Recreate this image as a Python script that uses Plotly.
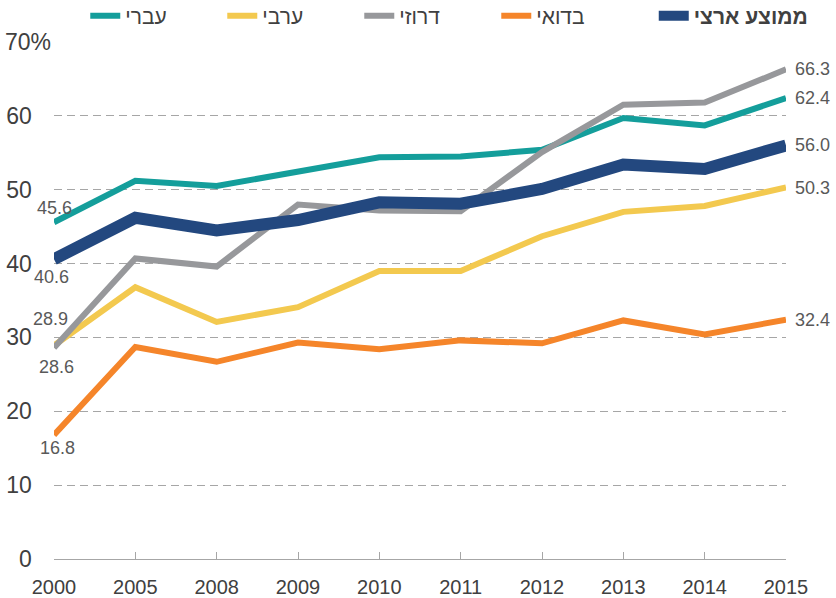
import plotly.graph_objects as go

# Data
years = ['2000', '2005', '2008', '2009', '2010', '2011', '2012', '2013', '2014', '2015']
hebrew = [45.6, 51.2, 50.5, 52.4, 54.4, 54.5, 55.4, 59.7, 58.7, 62.4]
arab = [28.9, 36.8, 32.1, 34.1, 39.0, 39.0, 43.7, 47.0, 47.8, 50.3]
druze = [28.6, 40.7, 39.6, 48.0, 47.2, 47.1, 55.1, 61.5, 61.8, 66.3]
bedouin = [16.8, 28.7, 26.7, 29.3, 28.4, 29.6, 29.2, 32.3, 30.4, 32.4]
national = [40.6, 46.2, 44.5, 45.9, 48.3, 48.1, 50.1, 53.4, 52.8, 56.0]

y_ticks = [0, 10, 20, 30, 40, 50, 60, 70]
nb = '\u00a0'
y_ticktext = [str(v) + nb * 3 for v in y_ticks[:-1]] + ['70%']

FONT = 'Liberation Sans, Arial, sans-serif'
LABEL_COLOR = '#595959'

# (name, values, colour, width, legend, rank, y shift of the 2000 label, x shift)
series = [
    ('עברי', hebrew, '#149E9B', 6, 'legend', 1, 14, 0),
    ('ערבי', arab, '#F3C94F', 6, 'legend', 2, 27, -4),
    ('בדואי', bedouin, '#F5852A', 6, 'legend', 4, -13, 3),
    ('דרוזי', druze, '#97989B', 6, 'legend', 3, -19, 2),
    ('<b>ממוצע ארצי</b>', national, '#23487F', 12, 'legend2', 5, -18, -3),
]

last = len(years) - 1
fig = go.Figure()
annotations = []
for name, vals, color, width, leg, rank, ysh, xsh in series:
    fig.add_trace(go.Scatter(x=years, y=vals, mode='lines', name=name,
                             line=dict(color=color, width=width),
                             legend=leg, legendrank=rank, hoverinfo='x+y'))
    # first and last value labels (x given as category index)
    annotations.append(dict(x=0, y=vals[0], text=f'{vals[0]:.1f}', showarrow=False,
                            xanchor='center', yanchor='middle', xshift=xsh, yshift=ysh,
                            font=dict(size=18, color=LABEL_COLOR, family=FONT)))
    annotations.append(dict(x=last, y=vals[last], text=f'{vals[last]:.1f}', showarrow=False,
                            xanchor='left', yanchor='middle', xshift=7,
                            font=dict(size=18, color=LABEL_COLOR, family=FONT)))

legend_common = dict(orientation='h', xref='container', yref='container',
                     y=0.973, xanchor='left', yanchor='middle',
                     font=dict(size=21, color='#404040'),
                     bgcolor='rgba(0,0,0,0)')

fig.update_layout(
    width=836, height=598,
    margin=dict(l=54, r=50, t=42, b=39, autoexpand=False),
    paper_bgcolor='white', plot_bgcolor='white',
    font=dict(family=FONT, color='#404040'),
    showlegend=True,
    legend=dict(x=0.102, entrywidth=92, entrywidthmode='pixels', **legend_common),
    legend2=dict(x=0.782, **legend_common),
    annotations=annotations,
    xaxis=dict(type='category', range=[0, last],
               showgrid=False, showline=True, linecolor='#A6A6A6', linewidth=1,
               ticks='inside', ticklen=7, tickcolor='#A6A6A6',
               tickfont=dict(size=20, color='#404040'), ticklabelstandoff=10),
    yaxis=dict(range=[0, 70], tickvals=y_ticks, ticktext=y_ticktext,
               showgrid=True, gridcolor='#A6A6A6', gridwidth=1, griddash='8px,5px',
               zeroline=False, showline=False, ticks='',
               tickfont=dict(size=23, color='#404040'), ticklabelstandoff=2),
)

# remove the default page margin so the figure sits at the window's corner
fig.write_html('out.html', config={'displayModeBar': False},
               post_script="document.body.style.margin='0';document.body.style.overflow='hidden';")
